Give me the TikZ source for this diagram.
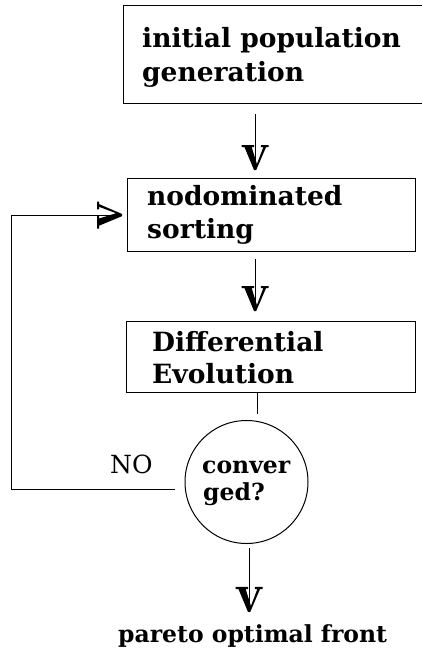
\documentclass[tikz,border=0pt]{standalone}
\usepackage{fontspec}
\setmainfont{DejaVu Serif}
\usetikzlibrary{calc,arrows.meta}

% arrow tip shaped like a serif capital V (thick stroke on the right-hand side of travel)
\pgfdeclarearrow{
  name = Vglyph,
  setup code = {
    \pgfarrowssettipend{0pt}
    \pgfarrowssetlineend{-8pt}
    \pgfarrowssetbackend{-25pt}
    \pgfarrowshullpoint{0pt}{0pt}
    \pgfarrowshullpoint{-25pt}{13.5pt}
    \pgfarrowshullpoint{-25pt}{-13.5pt}
  },
  drawing code = {
    \pgfpathmoveto{\pgfqpoint{-25pt}{-13.5pt}}
    \pgfpathlineto{\pgfqpoint{-25pt}{-1pt}}
    \pgfpathlineto{\pgfqpoint{-22.8pt}{-1pt}}
    \pgfpathlineto{\pgfqpoint{-22.8pt}{-3.3pt}}
    \pgfpathlineto{\pgfqpoint{-6pt}{1.9pt}}
    \pgfpathlineto{\pgfqpoint{-22.8pt}{8.3pt}}
    \pgfpathlineto{\pgfqpoint{-22.8pt}{5.8pt}}
    \pgfpathlineto{\pgfqpoint{-25pt}{5.8pt}}
    \pgfpathlineto{\pgfqpoint{-25pt}{13.5pt}}
    \pgfpathlineto{\pgfqpoint{-22.8pt}{13.5pt}}
    \pgfpathlineto{\pgfqpoint{-22.8pt}{11pt}}
    \pgfpathlineto{\pgfqpoint{0pt}{1.2pt}}
    \pgfpathlineto{\pgfqpoint{0pt}{-1pt}}
    \pgfpathlineto{\pgfqpoint{-22.8pt}{-10.5pt}}
    \pgfpathlineto{\pgfqpoint{-22.8pt}{-13.5pt}}
    \pgfpathclose
    \pgfusepathqfill
  }
}

\tikzset{
  box/.style={draw, line width=1.3pt, inner sep=0pt, anchor=north west},
  lbl/.style={inner sep=0pt, anchor=base west, font=\fontsize{26.5}{30}\selectfont\bfseries},
  small/.style={inner sep=0pt, anchor=base west, font=\fontsize{23.5}{27}\selectfont\bfseries},
  link/.style={draw, line width=1pt},
  arr/.style={link, -Vglyph},
}

\begin{document}
\begin{tikzpicture}[x=1pt, y=-1pt]
\useasboundingbox (0,0) rectangle (422,651);

% process boxes
\node[box, minimum width=302pt, minimum height=98pt] (b1) at (123,5) {};
\node[box, minimum width=288pt, minimum height=73pt] (b2) at (127,178) {};
\node[box, minimum width=289pt, minimum height=71pt] (b3) at (126,321) {};

% decision circle
\node[draw, circle, line width=1pt, inner sep=0pt, minimum size=123pt] (cv) at (246.5,482) {};

% box texts
\node[lbl] (t1a) at (142,47) {initial population};
\node[lbl] (t1b) at (142,81) {generation};
\node[lbl] (t2a) at (147,205) {nodominated};
\node[lbl] (t2b) at (147,238) {sorting};
\node[lbl] (t3a) at (152,351) {Differential};
\node[lbl] (t3b) at (152,383) {Evolution};
\node[small] (t4a) at (202,473) {conver};
\node[small] (t4b) at (203,500) {ged?};
\node[lbl, font=\fontsize{25}{30}\selectfont] (no) at (110,473) {NO};
\node[lbl, font=\fontsize{23.5}{30}\selectfont\bfseries] (pf) at (118,642) {pareto optimal front};

% guide positions for the connectors
\coordinate (xa) at (255,0);
\coordinate (xb) at (257,0);
\coordinate (xc) at (249,0);
\coordinate (lx) at (11,0);
\coordinate (fb0) at ($(cv.west)+(0,7)$);
\coordinate (fb1) at (fb0 -| lx);

% main flow
\draw[arr, shorten <=10pt, shorten >=8pt] (b1.south -| xa) -- (b2.north -| xa);
\draw[arr, shorten <=7pt, shorten >=10pt] (b2.south -| xa) -- (b3.north -| xa);
\draw[link, shorten >=6pt] (b3.south -| xb) -- (cv.north -| xb);
\draw[arr, shorten <=4pt, shorten >=12pt] (cv.south -| xc) -- (pf.north -| xc);

% feedback loop back to sorting
\draw[arr, shorten <=10pt, shorten >=5pt] (fb0) -- (fb1) |- (b2.west);
\end{tikzpicture}
\end{document}
